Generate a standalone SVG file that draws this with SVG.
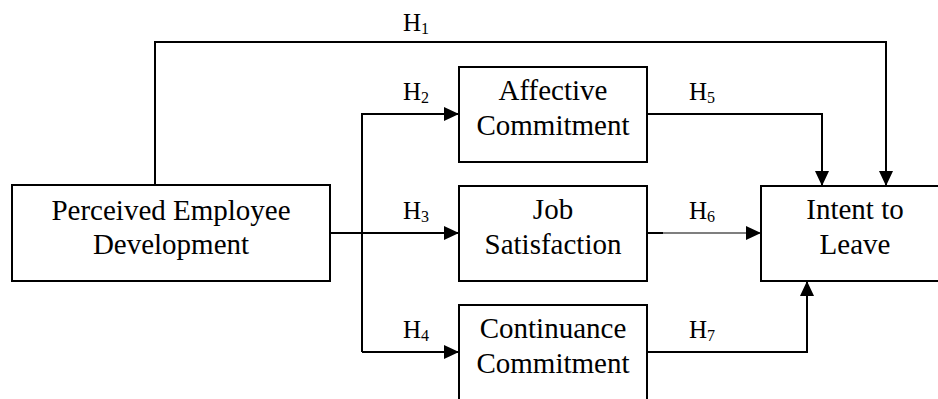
<svg xmlns="http://www.w3.org/2000/svg" width="938" height="399" viewBox="0 0 938 399">
<style>
.box{fill:#fff;stroke:#000;stroke-width:2}
text{font-family:'Liberation Serif','Times New Roman',Tinos,'DejaVu Serif',serif;fill:#000}
.lbl{font-size:29px;text-anchor:middle}
.h{font-size:25px}
.s{font-size:16px}
.c{fill:none;stroke:#000;stroke-width:2}
.thin{fill:none;stroke:#000;stroke-width:1.2}
</style>
<defs>
<marker id="arr" markerUnits="userSpaceOnUse" markerWidth="15" markerHeight="14" refX="15" refY="7" orient="auto">
<path d="M0,0 L15,7 L0,14 z" fill="#000"/>
</marker>
</defs>
<rect width="938" height="399" fill="#fff"/>
<g id="connectors">
<path class="c" d="M155,185 V42 H886 V186" marker-end="url(#arr)"/>
<path class="c" d="M330,233 H362"/>
<path class="c" d="M362,352 V114 H459" marker-end="url(#arr)"/>
<path class="c" d="M362,233 H459" marker-end="url(#arr)"/>
<path class="c" d="M362,352 H459" marker-end="url(#arr)"/>
<path class="c" d="M647,114 H822 V186" marker-end="url(#arr)"/>
<path class="c" d="M647,233 H663"/>
<path class="thin" d="M662,233 H761" marker-end="url(#arr)"/>
<path class="c" d="M647,352 H807 V281" marker-end="url(#arr)"/>
</g>
<g id="labels">
<text class="h" x="403" y="31">H<tspan class="s" dy="3">1</tspan></text>
<text class="h" x="403" y="100">H<tspan class="s" dy="3">2</tspan></text>
<text class="h" x="403" y="219">H<tspan class="s" dy="3">3</tspan></text>
<text class="h" x="403" y="338">H<tspan class="s" dy="3">4</tspan></text>
<text class="h" x="689" y="100">H<tspan class="s" dy="3">5</tspan></text>
<text class="h" x="689" y="219">H<tspan class="s" dy="3">6</tspan></text>
<text class="h" x="689" y="338">H<tspan class="s" dy="3">7</tspan></text>
</g>
<g id="ped">
<rect class="box" x="12" y="185" width="318" height="96"/>
<text class="lbl" x="171" y="220">Perceived Employee</text>
<text class="lbl" x="171" y="254">Development</text>
</g>
<g id="affective">
<rect class="box" x="459" y="67" width="188" height="95"/>
<text class="lbl" x="553" y="100">Affective</text>
<text class="lbl" x="553" y="135">Commitment</text>
</g>
<g id="job">
<rect class="box" x="459" y="186" width="188" height="95"/>
<text class="lbl" x="553" y="219">Job</text>
<text class="lbl" x="553" y="254">Satisfaction</text>
</g>
<g id="continuance">
<rect class="box" x="459" y="305" width="188" height="100"/>
<text class="lbl" x="553" y="338">Continuance</text>
<text class="lbl" x="553" y="373">Commitment</text>
</g>
<g id="intent">
<rect class="box" x="761" y="186" width="190" height="95"/>
<text class="lbl" x="855" y="219">Intent to</text>
<text class="lbl" x="855" y="254">Leave</text>
</g>
</svg>
